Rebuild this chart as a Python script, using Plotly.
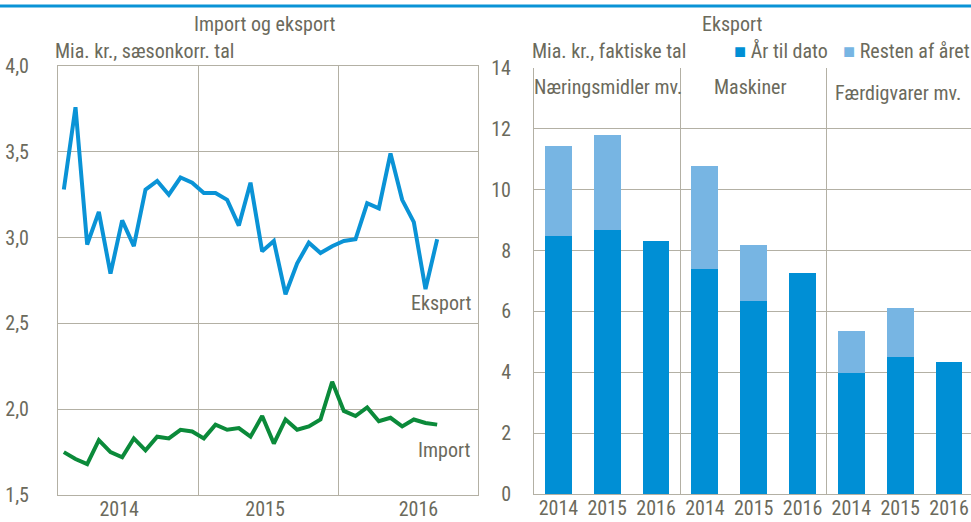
import plotly.graph_objects as go

# ---------------- data ----------------
# Left panel: monthly, Jan 2014 - Sep 2016 (Mia. kr., sæsonkorr.)
eksport = [3.28, 3.76, 2.96, 3.15, 2.79, 3.10, 2.95, 3.28, 3.33, 3.25, 3.35, 3.32,
           3.26, 3.26, 3.22, 3.07, 3.32, 2.92, 2.98, 2.67, 2.85, 2.97, 2.91, 2.95,
           2.98, 2.99, 3.20, 3.17, 3.49, 3.22, 3.09, 2.70, 2.99]
import_ = [1.75, 1.71, 1.68, 1.82, 1.75, 1.72, 1.83, 1.76, 1.84, 1.83, 1.88, 1.87,
           1.83, 1.91, 1.88, 1.89, 1.84, 1.96, 1.80, 1.94, 1.88, 1.90, 1.94, 2.16,
           1.99, 1.96, 2.01, 1.93, 1.95, 1.90, 1.94, 1.92, 1.91]
year_labels = ["2014", "2015", "2016"]

# Right panel: export by group (Mia. kr., faktiske tal)
groups = ["Næringsmidler mv.", "Maskiner", "Færdigvarer mv."]
bar_years = ["2014", "2015", "2016"]
aar_til_dato = [8.48, 8.66, 8.30, 7.38, 6.34, 7.27, 3.98, 4.50, 4.35]
resten = [2.97, 3.14, 0.0, 3.40, 1.84, 0.0, 1.38, 1.62, 0.0]

# ---------------- styles ----------------
W, H = 971, 522
TXT = "#6b6a5c"
GRID = "#b3b0a4"
BLUE = "#0a93d6"
GREEN = "#0b8a3a"
DARK = "#008fd5"
LIGHT = "#77b5e3"
FONT = "Liberation Sans Narrow, Arial Narrow, Roboto Condensed, Liberation Sans, sans-serif"
FS = 20

def px_x(p):
    return p / W

def px_y(p):
    return 1 - p / H

fig = go.Figure()

months = [i + 0.5 for i in range(len(eksport))]
fig.add_trace(go.Scatter(x=months, y=eksport, mode="lines", line=dict(color=BLUE, width=4),
                         xaxis="x", yaxis="y", showlegend=False, hoverinfo="y"))
fig.add_trace(go.Scatter(x=months, y=import_, mode="lines", line=dict(color=GREEN, width=4),
                         xaxis="x", yaxis="y", showlegend=False, hoverinfo="y"))

cats = list(range(len(aar_til_dato)))
fig.add_trace(go.Bar(x=cats, y=aar_til_dato, marker=dict(color=DARK, line=dict(width=0)),
                     width=0.55, xaxis="x2", yaxis="y2", name="År til dato", showlegend=False))
fig.add_trace(go.Bar(x=cats, y=resten, marker=dict(color=LIGHT, line=dict(width=0)),
                     width=0.55, xaxis="x2", yaxis="y2", name="Resten af året", showlegend=False))

n_years = len(year_labels)
fig.update_layout(
    width=W, height=H,
    margin=dict(l=0, r=0, t=0, b=0, autoexpand=False),
    paper_bgcolor="white", plot_bgcolor="white",
    barmode="stack",
    separators=",.",
    font=dict(family=FONT, size=FS, color=TXT),
    showlegend=False,
    xaxis=dict(
        domain=[px_x(58), px_x(478)], range=[0, 12 * n_years], anchor="y", automargin=False,
        tickmode="array", tickvals=[5.25, 17.75, 30.9], ticktext=year_labels,
        showgrid=False, zeroline=False, ticks="", ticklen=0, ticklabelstandoff=-4,
        showline=True, mirror=True, linecolor=GRID, linewidth=1,
        minor=dict(tickmode="array", tickvals=[12, 24], showgrid=True, gridcolor=GRID, gridwidth=1),
        tickfont=dict(size=FS, color=TXT), fixedrange=True,
    ),
    yaxis=dict(
        domain=[px_y(495), px_y(66)], range=[1.5, 4.0], anchor="x", automargin=False,
        tickmode="linear", tick0=1.5, dtick=0.5, tickformat=".1f",
        showgrid=True, gridcolor=GRID, gridwidth=1, zeroline=False,
        showline=True, mirror=True, linecolor=GRID, linewidth=1,
        ticks="outside", ticklen=0, tickcolor="white", ticklabelstandoff=24,
        tickfont=dict(size=FS, color=TXT), fixedrange=True,
    ),
    xaxis2=dict(
        domain=[px_x(534), 1.0], range=[-0.5, 8.45], anchor="y2", automargin=False,
        tickmode="array", tickvals=cats, ticktext=bar_years * len(groups),
        showgrid=False, zeroline=False, ticks="", ticklabelstandoff=-4,
        showline=True, linecolor=GRID, linewidth=1,
        minor=dict(tickmode="array", tickvals=[2.5, 5.5], showgrid=True, gridcolor=GRID, gridwidth=1),
        tickfont=dict(size=FS, color=TXT), fixedrange=True,
    ),
    yaxis2=dict(
        domain=[px_y(494), px_y(68)], range=[0, 14], anchor="x2", automargin=False,
        tickmode="linear", tick0=0, dtick=2,
        showgrid=True, gridcolor=GRID, gridwidth=1, zeroline=False,
        showline=True, linecolor=GRID, linewidth=1,
        ticks="outside", ticklen=0, tickcolor="white", ticklabelstandoff=18,
        tickfont=dict(size=FS, color=TXT), fixedrange=True,
    ),
)

# top blue rule
fig.add_shape(type="line", xref="paper", yref="paper", x0=0, x1=1, y0=px_y(6), y1=px_y(6),
              line=dict(color=BLUE, width=3))

ann = []
def text(x, y, s, xanchor="center", size=FS):
    ann.append(dict(x=x, y=y, xref="paper", yref="paper", text=s, showarrow=False,
                    xanchor=xanchor, yanchor="middle", font=dict(size=size, color=TXT)))

text(px_x(265), px_y(24), "Import og eksport")
text(px_x(53), px_y(51), "Mia. kr., sæsonkorr. tal", xanchor="left")
text(px_x(732), px_y(24), "Eksport")
text(px_x(530), px_y(51), "Mia. kr., faktiske tal", xanchor="left")
text(px_x(732), px_y(51), f"<span style='color:{DARK}'>■</span> År til dato", xanchor="left")
text(px_x(841), px_y(51), f"<span style='color:{LIGHT}'>■</span> Resten af året", xanchor="left")

# series labels
ann.append(dict(x=months[-1] + 0.4, y=eksport[-1] - 0.37, xref="x", yref="y", text="Eksport",
                showarrow=False, xanchor="center", yanchor="middle", font=dict(size=FS, color=TXT)))
ann.append(dict(x=months[-1] + 0.6, y=import_[-1] - 0.145, xref="x", yref="y", text="Import",
                showarrow=False, xanchor="center", yanchor="middle", font=dict(size=FS, color=TXT)))

# group labels
text(px_x(608), px_y(87), groups[0])
text(px_x(750), px_y(87), groups[1])
text(px_x(898), px_y(93), groups[2])

fig.update_layout(annotations=ann)
fig.write_html("out.html", config={"displayModeBar": False},
               post_script="document.body.style.margin='0';")
